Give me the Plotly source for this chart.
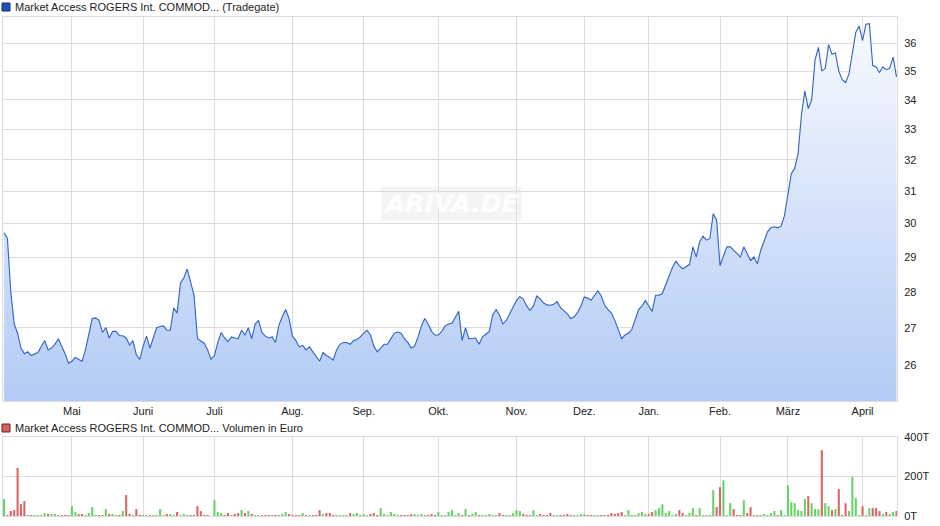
import math
import plotly.graph_objects as go
from plotly.subplots import make_subplots

# ---- data ----
price = [
    29.72, 29.55, 28.0, 27.1, 26.85, 26.45, 26.3, 26.35, 26.25, 26.3,
    26.33, 26.5, 26.65, 26.4, 26.45, 26.55, 26.7, 26.5, 26.3, 26.05,
    26.1, 26.2, 26.15, 26.1, 26.4, 26.85, 27.25, 27.27, 27.2, 26.87,
    27.0, 26.72, 26.9, 26.9, 26.78, 26.78, 26.72, 26.53, 26.65, 26.27,
    26.15, 26.5, 26.77, 26.45, 26.75, 27.0, 27.03, 27.05, 26.93, 26.93,
    27.55, 27.4, 28.25, 28.4, 28.65, 28.25, 27.9, 26.7, 26.65, 26.58,
    26.4, 26.15, 26.25, 26.6, 26.87, 26.72, 26.62, 26.75, 26.72, 26.7,
    26.93, 26.8, 27.0, 26.7, 27.1, 27.2, 26.87, 26.77, 26.72, 26.75,
    26.6, 27.07, 27.3, 27.5, 27.25, 26.77, 26.65, 26.48, 26.52, 26.4,
    26.48, 26.35, 26.2, 26.1, 26.33, 26.25, 26.2, 26.13, 26.4, 26.55,
    26.6, 26.6, 26.55, 26.65, 26.68, 26.75, 26.85, 26.93, 26.8, 26.5,
    26.35, 26.45, 26.55, 26.55, 26.7, 26.85, 26.88, 26.85, 26.7, 26.6,
    26.45, 26.5, 26.75, 27.05, 27.25, 27.1, 26.9, 26.8, 26.8, 26.9,
    27.05, 27.1, 27.12, 27.3, 27.45, 26.65, 27.0, 26.7, 26.7, 26.72,
    26.55, 26.75, 26.82, 26.9, 27.35, 27.5, 27.35, 27.1, 27.2, 27.38,
    27.55, 27.75, 27.86, 27.8, 27.6, 27.48, 27.6, 27.88, 27.8, 27.68,
    27.63, 27.62, 27.65, 27.72, 27.55, 27.45, 27.38, 27.25, 27.3, 27.42,
    27.6, 27.85, 27.82, 27.76, 27.9, 28.03, 27.88, 27.62, 27.5, 27.4,
    27.2, 26.95, 26.7, 26.8, 26.85, 26.95, 27.22, 27.5, 27.6, 27.75,
    27.6, 27.45, 27.9, 27.9, 27.95, 28.2, 28.43, 28.7, 28.88, 28.75,
    28.66, 28.72, 28.78, 29.3, 29.0, 29.45, 29.62, 29.5, 29.55, 30.3,
    30.1, 28.75, 29.0, 29.3, 29.3, 29.2, 29.1, 29.0, 29.3, 29.1,
    28.9, 29.0, 28.8, 29.2, 29.5, 29.75, 29.87, 29.9, 29.87, 29.92,
    30.25, 30.9, 31.55, 31.72, 32.2, 33.5, 34.3, 33.7, 34.0, 35.4,
    35.85, 35.0, 35.1, 35.95, 35.6, 35.65, 35.0, 34.7, 34.6, 34.9,
    35.6, 36.4, 36.63, 36.1, 36.7, 36.72, 35.2, 35.15, 34.95, 35.15,
    35.05, 35.1, 35.5, 34.8,
]

volume_t = [
    86, 5, 25, 30, 244, 60, 76, 2, 2, 5,
    5, 5, 15, 10, 10, 10, 2, 5, 2, 2,
    50, 20, 10, 10, 2, 15, 45, 5, 5, 5,
    35, 10, 10, 2, 2, 25, 106, 10, 2, 35,
    5, 5, 2, 2, 5, 5, 35, 2, 10, 10,
    2, 20, 2, 10, 5, 5, 5, 50, 25, 2,
    5, 0, 80, 20, 15, 5, 15, 5, 10, 15,
    30, 15, 25, 10, 5, 2, 5, 2, 5, 5,
    5, 5, 10, 20, 10, 5, 2, 2, 15, 5,
    5, 2, 5, 30, 10, 15, 15, 5, 2, 5,
    2, 2, 15, 10, 15, 2, 10, 5, 10, 15,
    2, 40, 10, 5, 20, 10, 5, 2, 5, 5,
    10, 10, 5, 10, 2, 2, 10, 2, 20, 2,
    2, 20, 30, 2, 15, 2, 35, 5, 10, 20,
    5, 5, 2, 10, 5, 5, 15, 5, 5, 2,
    15, 30, 25, 10, 2, 5, 30, 2, 10, 5,
    5, 15, 5, 5, 2, 5, 10, 2, 2, 2,
    10, 10, 2, 2, 5, 5, 2, 2, 5, 15,
    10, 15, 20, 5, 30, 5, 5, 15, 20, 10,
    10, 20, 30, 40, 60, 15, 25, 5, 10, 30,
    15, 2, 15, 40, 2, 40, 5, 5, 5, 131,
    45, 146, 181, 2, 65, 35, 5, 2, 80, 15,
    45, 5, 2, 2, 10, 2, 15, 25, 5, 30,
    5, 156, 70, 65, 30, 25, 86, 101, 65, 35,
    35, 333, 65, 50, 30, 35, 136, 2, 65, 25,
    197, 91, 5, 50, 5, 40, 40, 40, 25, 10,
    20, 10, 20, 25,
]

month_labels = ["Mai", "Juni", "Juli", "Aug.", "Sep.", "Okt.", "Nov.", "Dez.",
                "Jan.", "Feb.", "März", "April"]
month_start_index = [20, 41, 62, 85, 106, 128, 151, 171, 190, 211, 231, 253]
price_ticks = [26, 27, 28, 29, 30, 31, 32, 33, 34, 35, 36]
volume_ticks = [0, 200, 400]
volume_tick_labels = ["0T", "200T", "400T"]

price_title = "Market Access ROGERS Int. COMMOD... (Tradegate)"
volume_title = "Market Access ROGERS Int. COMMOD... Volumen in Euro"

# ---- figure ----
n = min(len(price), len(volume_t))
price = price[:n]
volume_t = volume_t[:n]
idx = list(range(n))

GREEN = "#66d466"
RED = "#dd6666"
bar_colors = [GREEN if i == 0 or price[i] >= price[i - 1] else RED for i in range(n)]

W, H = 940, 526
L, R, T, B = 3, 43, 17, 10
ph = H - T - B
pw = W - L - R

y_lo, y_hi = 25.07, 36.97

fig = make_subplots(rows=2, cols=1, shared_xaxes=False, vertical_spacing=0.0)

fig.add_trace(go.Scatter(
    x=idx, y=price, mode="lines",
    line=dict(color="#2f62c8", width=1.1),
    fill="tozeroy",
    fillgradient=dict(type="vertical", start=y_lo, stop=y_hi,
                      colorscale=[[0, "#b3cbf5"], [1, "#f8fafe"]]),
    hoverinfo="skip", showlegend=False,
), row=1, col=1)

fig.add_trace(go.Bar(
    x=idx, y=volume_t, marker=dict(color=bar_colors, line=dict(width=0)),
    showlegend=False, hoverinfo="skip",
), row=2, col=1)

grid = "#dcdcdc"
font_family = "Liberation Sans, Arial, sans-serif"

xr = [-0.3, n - 1 + 0.15]
fig.update_layout(
    width=W, height=H,
    margin=dict(l=L, r=R, t=T, b=B, autoexpand=False),
    paper_bgcolor="white", plot_bgcolor="white",
    font=dict(family=font_family, size=11, color="#222222"),
    bargap=0.38,
    xaxis=dict(domain=[0, 1], range=xr, tickvals=month_start_index, ticktext=month_labels,
               showgrid=True, gridcolor=grid, gridwidth=1, zeroline=False,
               showline=True, linecolor=grid, mirror=True, ticks="",
               tickfont=dict(size=11, color="#222222"), anchor="y"),
    yaxis=dict(domain=[(516 - 401) / ph, 1.0], type="log",
               range=[math.log10(y_lo), math.log10(y_hi)],
               tickvals=price_ticks, ticktext=[str(v) for v in price_ticks],
               side="right", showgrid=True, gridcolor=grid, gridwidth=1,
               zeroline=False, showline=True, linecolor=grid, mirror=True,
               ticks="", ticklabelstandoff=4,
               tickfont=dict(size=11, color="#222222"), anchor="x"),
    xaxis2=dict(domain=[0, 1], range=xr, tickvals=month_start_index,
                showticklabels=False, showgrid=True, gridcolor=grid, gridwidth=1,
                zeroline=False, showline=True, linecolor=grid, mirror=True,
                ticks="", anchor="y2"),
    yaxis2=dict(domain=[0.0, (516 - 437) / ph], range=[0, 400],
                tickvals=volume_ticks, ticktext=volume_tick_labels, side="right",
                showgrid=True, gridcolor=grid, gridwidth=1, zeroline=False,
                showline=True, linecolor=grid, mirror=True, ticks="",
                ticklabelstandoff=4,
                tickfont=dict(size=11, color="#222222"), anchor="x2"),
)

# legend-like headers
fig.add_shape(type="rect", xref="paper", yref="paper",
              x0=(2 - L) / pw, x1=(10 - L) / pw,
              y0=(H - B - 11) / ph, y1=(H - B - 3) / ph,
              fillcolor="#1f4fc0", line=dict(color="#1a2f66", width=1))
fig.add_annotation(xref="paper", yref="paper",
                   x=(13 - L) / pw, y=(H - B - 7) / ph,
                   text=price_title, showarrow=False, xanchor="left", yanchor="middle",
                   font=dict(size=11, color="#222222", family=font_family))
fig.add_shape(type="rect", xref="paper", yref="paper",
              x0=(2 - L) / pw, x1=(10 - L) / pw,
              y0=(H - B - 432) / ph, y1=(H - B - 424) / ph,
              fillcolor="#d96060", line=dict(color="#662222", width=1))
fig.add_annotation(xref="paper", yref="paper",
                   x=(13 - L) / pw, y=(H - B - 428) / ph,
                   text=volume_title, showarrow=False, xanchor="left", yanchor="middle",
                   font=dict(size=11, color="#222222", family=font_family))

# watermark
fig.add_annotation(xref="paper", yref="paper",
                   x=(451 - L) / pw, y=(H - B - 203) / ph,
                   text="<b><i>ARIVA.DE</i></b>", showarrow=False,
                   xanchor="center", yanchor="middle",
                   font=dict(size=25, color="rgba(255,255,255,0.95)", family="DejaVu Sans"),
                   bgcolor="rgba(220,220,220,0.32)", borderpad=2, opacity=1)

fig.write_html("out.html", config={"displayModeBar": False},
               post_script="document.body.style.margin='0';")
